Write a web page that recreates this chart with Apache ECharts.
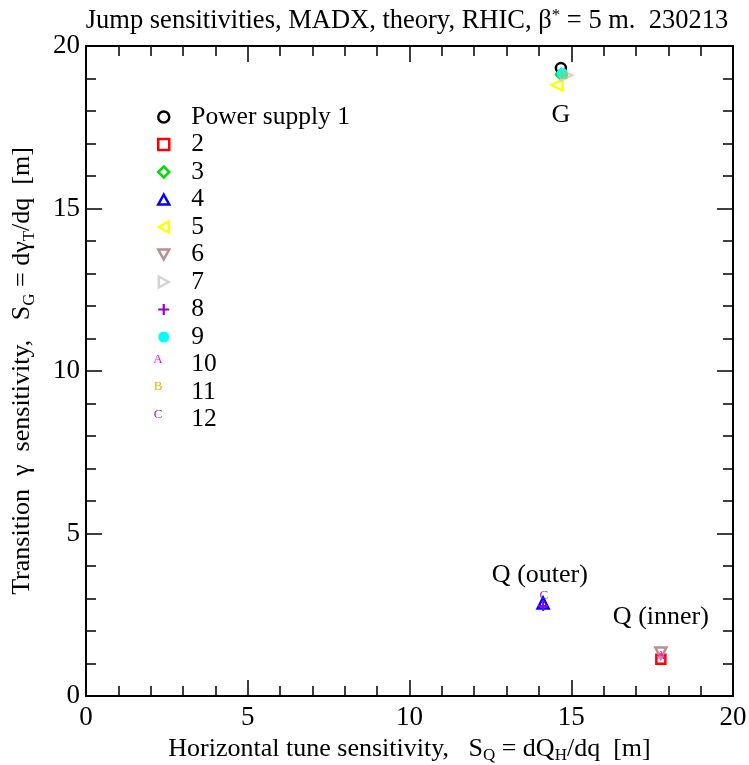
<!DOCTYPE html>
<html><head><meta charset="utf-8">
<script src="https://cdn.jsdelivr.net/npm/echarts@6/dist/echarts.min.js"></script>
<style>html,body{margin:0;padding:0;background:#fff}#c{width:749px;height:765px}</style>
</head><body><div id="c"></div>
<script>
// ---- data ----
const seriesNames = ['Power supply 1','2','3','4','5','6','7','8','9','10','11','12'];
const seriesColors = ['#000000','#ff0000','#00dd00','#0000ff','#ffff00','#bc8f8f','#d3d3d3','#9400d3','#00ffff','#ff00ff','#ffa500','#a020f0'];
const ps1  = [[14.68, 19.32]];
const ps2  = [[17.77, 1.13]];
const ps3  = [[14.70, 19.12]];
const ps4  = [[14.13, 2.86]];
const ps5  = [[14.56, 18.80]];
const ps6  = [[17.77, 1.32]];
const ps7  = [[14.85, 19.10]];
const ps8  = [[14.13, 2.77]];
const ps9  = [[14.72, 19.16]];
const ps10 = [[17.77, 1.23]];
const ps11 = [[14.78, 19.08]];
const ps12 = [[14.15, 3.10]];
const seriesData = [ps1,ps2,ps3,ps4,ps5,ps6,ps7,ps8,ps9,ps10,ps11,ps12];
const annotations = [
  {text:'G', x:14.68, y:17.88},
  {text:'Q (outer)', x:14.03, y:3.72},
  {text:'Q (inner)', x:17.77, y:2.43}
];

// ---- styles ----
const FONT = '"Liberation Serif", "DejaVu Serif", serif';
const plusPath = 'path://M4,0 H6 V4 H10 V6 H6 V10 H4 V6 H0 V4 H4 Z';
const triUp = 'path://M5,0 L10,9 L0,9 Z';
const triDown = 'path://M0,0 L10,0 L5,9 Z';
const triLeft = 'path://M0,5 L9,0 L9,10 Z';
const triRight = 'path://M0,0 L9,5 L0,10 Z';
const symbolDefs = [
  {symbol:'circle', size:10, fill:'transparent'},
  {symbol:'rect', size:9, fill:'transparent'},
  {symbol:'diamond', size:11, fill:'transparent'},
  {symbol:triUp, size:11, fill:'transparent'},
  {symbol:triLeft, size:11, fill:'transparent'},
  {symbol:triDown, size:11, fill:'transparent'},
  {symbol:triRight, size:11, fill:'transparent'},
  {symbol:plusPath, size:10, fill:'solid'},
  {symbol:'circle', size:11, fill:'solid'},
  {symbol:'letter', letter:'A'},
  {symbol:'letter', letter:'B'},
  {symbol:'letter', letter:'C'}
];

function styleFor(i){
  const d = symbolDefs[i], c = seriesColors[i];
  return d.fill === 'solid'
    ? {color:c, borderWidth:0, opacity:1}
    : {color:'rgba(255,255,255,0)', borderColor:c, borderWidth:2.5, opacity:1};
}

const series = seriesNames.map((name, i) => {
  const d = symbolDefs[i];
  const c = seriesColors[i];
  if (d.symbol === 'letter') {
    return {
      name, type:'scatter', xAxisIndex:0, yAxisIndex:0, data: seriesData[i],
      symbol:'circle', symbolSize:1,
      itemStyle:{color:'rgba(0,0,0,0)', opacity:1},
      label:{show:true, position:'inside', formatter:d.letter, color:c,
             fontFamily:FONT, fontSize:13},
      z: 5
    };
  }
  return {
    name, type:'scatter', xAxisIndex:0, yAxisIndex:0, data: seriesData[i],
    symbol:d.symbol, symbolSize:d.size,
    itemStyle: styleFor(i),
    z: 3 + i*0.01
  };
});

series.push({
  name:'annot', type:'scatter', xAxisIndex:0, yAxisIndex:0,
  data: annotations.map(a => ({value:[a.x, a.y], label:{formatter:a.text}})),
  symbolSize:1, itemStyle:{color:'rgba(0,0,0,0)', opacity:1},
  label:{show:true, position:'inside', color:'#000', fontFamily:FONT, fontSize:26},
  silent:true
});

function baseAxis(extra){
  return Object.assign({
    type:'value', min:0, max:20, interval:5,
    axisLine:{show:true, onZero:false, lineStyle:{color:'#000', width:2}},
    axisTick:{show:true, inside:true, length:16, lineStyle:{color:'#000', width:1.5}},
    minorTick:{show:true, splitNumber:5, length:10, lineStyle:{color:'#000', width:1.5}},
    splitLine:{show:false},
    axisLabel:{show:true, color:'#000', fontFamily:FONT, fontSize:27, margin:8}
  }, extra);
}

const legendTop = 99, rowH = 27.5, iconCx = 158;
const letterGraphics = [9,10,11].map(i => ({
  type:'text', x: iconCx, y: legendTop + i*rowH + 13,
  style:{text:symbolDefs[i].letter, fill:seriesColors[i], font:'13px ' + FONT,
         align:'center', verticalAlign:'middle'},
  z:100
}));

const option = {
  backgroundColor:'#fff',
  animation:false,
  title:{
    text:'Jump sensitivities, MADX, theory, RHIC, {t|β}{sup|*}{t| = 5 m.  230213}',
    left:402, textAlign:'center', top:2,
    textStyle:{fontFamily:FONT, fontSize:26.5, fontWeight:'normal', color:'#000',
      rich:{t:{fontFamily:FONT, fontSize:26.5, color:'#000'}, sup:{fontFamily:FONT, fontSize:17, color:'#000', verticalAlign:'top', padding:[0,0,12,0]}}}
  },
  grid:{left:86, top:46, right:16, bottom:69, containLabel:false, outerBoundsMode:'none'},
  xAxis:[
    baseAxis({position:'bottom',
      name:'{t|Horizontal tune sensitivity,   S}{sub|Q}{t| = dQ}{sub|H}{t|/dq  [m]}',
      nameLocation:'middle', nameGap:36,
      axisLabel:{show:true, color:'#000', fontFamily:FONT, fontSize:27, margin:8},
      nameTextStyle:{rich:{t:{fontFamily:FONT, fontSize:26, color:'#000'}, sub:{fontFamily:FONT, fontSize:17, color:'#000', padding:[14,0,0,0]}}}
    }),
    baseAxis({position:'top', axisLabel:{show:false}})
  ],
  yAxis:[
    baseAxis({position:'left',
      name:'{t|Transition  γ  sensitivity,   S}{sub|G}{t| = dγ}{sub|T}{t|/dq  [m]}',
      nameLocation:'middle', nameGap:48,
      axisLabel:{show:true, color:'#000', fontFamily:FONT, fontSize:27, margin:6},
      nameTextStyle:{rich:{t:{fontFamily:FONT, fontSize:26, color:'#000'}, sub:{fontFamily:FONT, fontSize:17, color:'#000', padding:[14,0,0,0]}}}
    }),
    baseAxis({position:'right', axisLabel:{show:false}})
  ],
  legend:{
    data: seriesNames.map((n,i) => {
      const d = symbolDefs[i];
      if (d.symbol === 'letter') return {name:n, icon:'none'};
      return {name:n, icon:d.symbol, itemStyle:styleFor(i)};
    }),
    orient:'vertical', left:iconCx - 6, top:legendTop,
    itemWidth:11, itemHeight:11, itemGap:1.5,
    textStyle:{fontFamily:FONT, fontSize:25.5, color:'#000', lineHeight:26, padding:[0,0,0,17]},
    selectedMode:false
  },
  graphic: letterGraphics,
  series: series
};

const chart = echarts.init(document.getElementById('c'), null, {renderer:'canvas'});
chart.setOption(option);
</script>
</body></html>
